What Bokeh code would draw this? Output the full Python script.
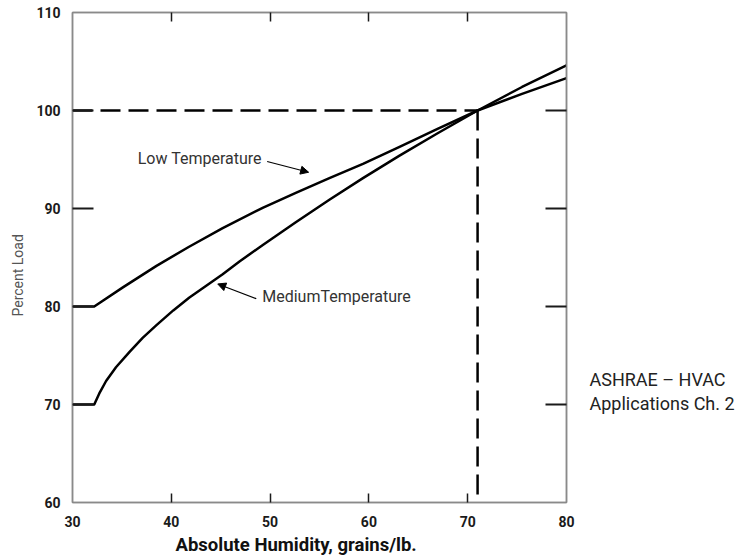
from bokeh.plotting import figure
from bokeh.models import Range1d, LinearAxis, FixedTicker, Label, Arrow, NormalHead, Title
from bokeh.layouts import row
from bokeh.embed import file_html
from bokeh.resources import INLINE

# ---- data ----
low_x = [30, 32.2, 35.1, 38.5, 41.8, 45.2, 49.3, 52.6, 56.0, 59.4, 63.1, 67.0, 71.0, 75.5, 80.0]
low_y = [80, 80.0, 81.95, 84.15, 86.1, 88.0, 90.1, 91.6, 93.1, 94.55, 96.3, 98.15, 100.0, 101.7, 103.3]
med_x = [30, 32.2, 32.7, 33.4, 34.4, 35.8, 37.1, 38.5, 40.2, 41.8, 43.5, 45.2, 46.9,
         49.3, 52.6, 56.0, 59.4, 63.1, 67.0, 71.0, 75.5, 80.0]
med_y = [70, 70.0, 71.1, 72.4, 73.8, 75.4, 76.8, 78.1, 79.6, 80.9, 82.1, 83.3, 84.6,
         86.3, 88.6, 90.9, 93.1, 95.4, 97.7, 100.0, 102.4, 104.6]
ref_x = 71
ref_y = 100
x_ticks = [30, 40, 50, 60, 70, 80]
y_ticks = [60, 70, 80, 90, 100, 110]
inner_x_ticks = [40, 50, 60, 70]
inner_y_ticks = [70, 80, 90, 100]
x_title = "Absolute Humidity, grains/lb."
y_title = "Percent Load"
low_label = ("Low Temperature", 36.6, 95.1)
med_label = ("MediumTemperature", 49.2, 81.0)
low_arrow = (49.7, 94.8, 53.9, 93.7)
med_arrow = (48.6, 80.8, 44.7, 82.3)
source_lines = ["ASHRAE \u2013 HVAC", "Applications Ch. 2"]
source_y = [72.6, 70.1]

FONT = "Roboto"
GRAY = "#8a8a8a"
INK = "#1a1a1a"

p = figure(frame_width=494, frame_height=490, output_backend="svg", toolbar_location=None,
           x_range=Range1d(30, 80), y_range=Range1d(60, 110),
           min_border_left=60, min_border_right=12, min_border_top=12, min_border_bottom=8)
p.grid.visible = False
p.outline_line_color = GRAY
p.outline_line_width = 1.5
p.border_fill_color = "white"

# bottom axis: labels at every 10, inward ticks only at inner values
xa = p.xaxis[0]
xa.ticker = FixedTicker(ticks=x_ticks, minor_ticks=inner_x_ticks)
xa.major_tick_line_color = None
xa.minor_tick_in = 9
xa.minor_tick_out = 0
xa.minor_tick_line_color = INK
xa.minor_tick_line_width = 1.5
xa.axis_line_color = GRAY
xa.axis_line_width = 1.5
xa.major_label_text_font = FONT
xa.major_label_text_font_size = "14px"
xa.major_label_text_font_style = "bold"
xa.major_label_text_color = INK
xa.major_label_standoff = 7

# left axis
ya = p.yaxis[0]
ya.ticker = FixedTicker(ticks=y_ticks, minor_ticks=inner_y_ticks)
ya.major_tick_line_color = None
ya.minor_tick_in = 21
ya.minor_tick_out = 0
ya.minor_tick_line_color = INK
ya.minor_tick_line_width = 2.2
ya.axis_line_color = GRAY
ya.axis_line_width = 1.5
ya.major_label_text_font = FONT
ya.major_label_text_font_size = "14px"
ya.major_label_text_font_style = "bold"
ya.major_label_text_color = INK
ya.major_label_standoff = 6

# right axis (inward ticks)
ra = LinearAxis(ticker=FixedTicker(ticks=inner_y_ticks), major_tick_in=21, major_tick_out=0,
                major_tick_line_width=2.2, major_tick_line_color=INK,
                minor_tick_line_color=None, axis_line_color=GRAY, axis_line_width=1.5,
                major_label_text_font_size="0px", major_label_text_color=None,
                major_label_standoff=0)
p.add_layout(ra, "right")

# top axis (inward ticks)
ta = LinearAxis(ticker=FixedTicker(ticks=inner_x_ticks), major_tick_in=9, major_tick_out=0,
                major_tick_line_width=1.5, major_tick_line_color=INK,
                minor_tick_line_color=None, axis_line_color=GRAY, axis_line_width=1.5,
                major_label_text_font_size="0px", major_label_text_color=None,
                major_label_standoff=0)
p.add_layout(ta, "above")

# axis titles (offset along the axis like the reference)
p.add_layout(Title(text=x_title, align="left", offset=103, standoff=4,
                   text_font=FONT, text_font_size="18.5px", text_font_style="bold",
                   text_color="#111111"), "below")
p.add_layout(Title(text=y_title, align="left", offset=186, standoff=15,
                   text_font=FONT, text_font_size="14px", text_font_style="normal",
                   text_color="#555555"), "left")

# reference dashed lines
p.line([x_ticks[0], ref_x], [ref_y, ref_y], line_color="black", line_width=2.5, line_dash="20 8")
p.line([ref_x, ref_x], [ref_y, y_ticks[0]], line_color="black", line_width=2.5, line_dash="20 8")

# curves
p.line(low_x, low_y, line_color="black", line_width=2.5, line_join="round")
p.line(med_x, med_y, line_color="black", line_width=2.5, line_join="round")

# annotations
for txt, lx, ly in (low_label, med_label):
    p.add_layout(Label(x=lx, y=ly, text=txt, text_font=FONT, text_font_size="16px",
                       text_color="#333333", text_baseline="middle", text_align="left"))
for (x0, y0, x1, y1) in (low_arrow, med_arrow):
    p.add_layout(Arrow(x_start=x0, y_start=y0, x_end=x1, y_end=y1, line_width=1.2,
                       line_color="black",
                       end=NormalHead(size=8, fill_color="black", line_color="black")))

# source note panel on the right
side_w = 150
s = figure(width=side_w, frame_height=490, output_backend="svg", toolbar_location=None,
           x_range=Range1d(0, side_w), y_range=p.y_range,
           x_axis_location=None, y_axis_location=None,
           min_border_left=0, min_border_right=0, min_border_top=12, min_border_bottom=8)
s.grid.visible = False
s.outline_line_color = None
for txt, sy in zip(source_lines, source_y):
    s.add_layout(Label(x=3, y=sy, text=txt, text_font=FONT,
                       text_font_size="18px", text_color="#222222",
                       text_baseline="middle", text_align="left"))

p.min_border_right = 20
open("out.html", "w").write(file_html(row(p, s), INLINE))
